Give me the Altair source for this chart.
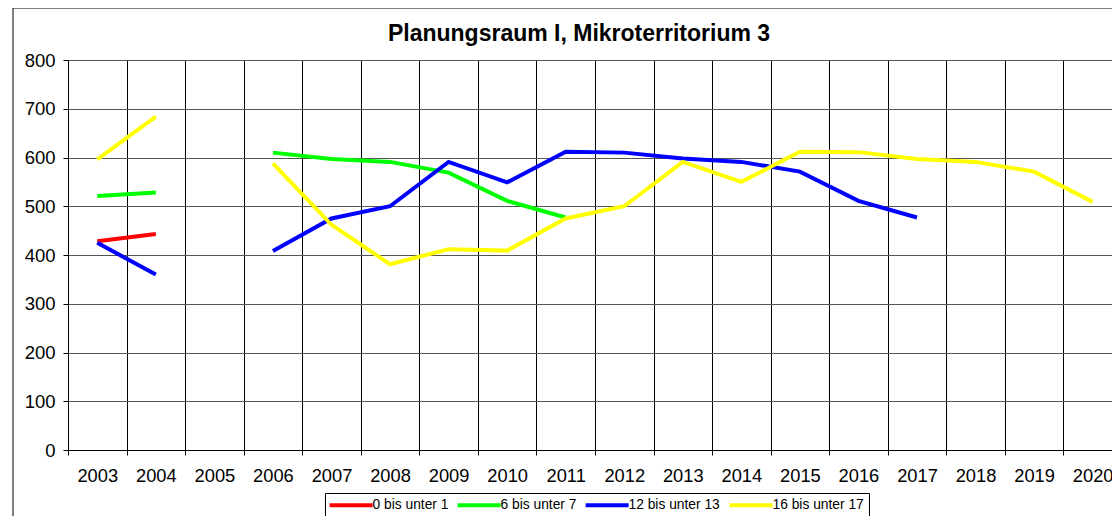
import altair as alt
import pandas as pd

years = list(range(2003, 2021))
series_names = ["0 bis unter 1", "6 bis unter 7", "12 bis unter 13", "16 bis unter 17"]
series_colors = ["#FF0000", "#00FF00", "#0000FF", "#FFFF00"]
title_text = ["Planungsraum I, Mikroterritorium 3"]

red = [428, 443, None, None, None, None, None, None, None, None, None, None, None, None, None, None, None, None]
green = [521, 528, None, 610, 597, 591, 569, 511, 477, None, None, None, None, None, None, None, None, None]
blue = [425, 360, None, 408, 475, 500, 591, 549, 612, 610, 598, 591, 571, 511, 477, None, None, None]
yellow = [596, 684, None, 588, 462, 381, 412, 409, 475, 500, 591, 550, 612, 611, 597, 591, 571, 509]

y_ticks = [0, 100, 200, 300, 400, 500, 600, 700, 800]
x_bounds = [y - 0.5 for y in years]

rows = []
for name, vals in zip(series_names, [red, green, blue, yellow]):
    seg = 0
    for yr, v in zip(years, vals):
        if v is None:
            seg += 1
            continue
        rows.append({"Jahr": yr, "Wert": v, "Reihe": name, "seg": f"{name}-{seg}"})
df = pd.DataFrame(rows)
bounds_df = pd.DataFrame({"Jahr": x_bounds})

W = 1044
H = 390
band = 58.55

x_scale = alt.Scale(domain=[2002.5, 2002.5 + W / band], nice=False, zero=False)
y_scale = alt.Scale(domain=[0, 800], nice=False)

FONT = "Liberation Sans"

grid_layer = alt.Chart(bounds_df).mark_rule(opacity=0).encode(
    x=alt.X("Jahr:Q", scale=x_scale, title=None,
            axis=alt.Axis(orient="bottom", values=x_bounds, grid=True, gridColor="#000000",
                          gridWidth=1, gridOpacity=1, tickColor="#000000", tickSize=5,
                          domainColor="#000000", labels=False)),
)

lines = alt.Chart(df).mark_line(strokeWidth=4, clip=True).encode(
    x=alt.X("Jahr:Q", scale=x_scale, title=None,
            axis=alt.Axis(orient="bottom", values=years, grid=False, ticks=False, domain=False,
                          format="d", labelFlush=False, labelAlign="center", labelOverlap=False,
                          labelFontSize=18.3, labelColor="#000000", labelPadding=17,
                          labelFont=FONT)),
    y=alt.Y("Wert:Q", scale=y_scale, title=None,
            axis=alt.Axis(values=y_ticks, grid=True, gridColor="#555555", gridWidth=1,
                          gridOpacity=1, tickColor="#000000", tickSize=5, domainColor="#000000",
                          labelFontSize=18.5, labelColor="#000000", labelPadding=8,
                          labelFont=FONT)),
    color=alt.Color("Reihe:N", scale=alt.Scale(domain=series_names, range=series_colors),
                    sort=series_names, title=None,
                    legend=alt.Legend(orient="none", legendX=257, legendY=433, direction="horizontal",
                                      symbolType="M-1,0H7", symbolSize=115.6, symbolStrokeWidth=4,
                                      symbolFillColor="transparent", symbolOffset=-2,
                                      labelFontSize=13.8, labelFont=FONT,
                                      labelColor="#000000", labelOffset=30, columnPadding=1,
                                      strokeColor="#000000", fillColor="#FFFFFF", padding=4.5,
                                      columns=4)),
    detail="seg:N",
)

border = alt.Chart(pd.DataFrame({"a": [0]})).mark_rect(
    fill="transparent", stroke="#000000", strokeWidth=1
).encode(x=alt.value(-55), x2=alt.value(1300), y=alt.value(-52), y2=alt.value(700))

title = alt.Chart(pd.DataFrame({"t": title_text})).mark_text(
    font=FONT, fontSize=23, fontWeight="bold", color="#000000", align="center",
    baseline="alphabetic"
).encode(text="t:N", x=alt.value(511), y=alt.value(-19.5))

chart = alt.layer(border, title, grid_layer, lines).resolve_axis(x="independent").properties(
    width=W, height=H,
    autosize=alt.AutoSizeParams(type="none"),
    padding={"left": 60, "top": 52, "right": 0, "bottom": 66},
).configure_view(stroke=None).configure(background="#FFFFFF")

chart.save("out.html", embed_options={"renderer": "svg", "actions": False})
